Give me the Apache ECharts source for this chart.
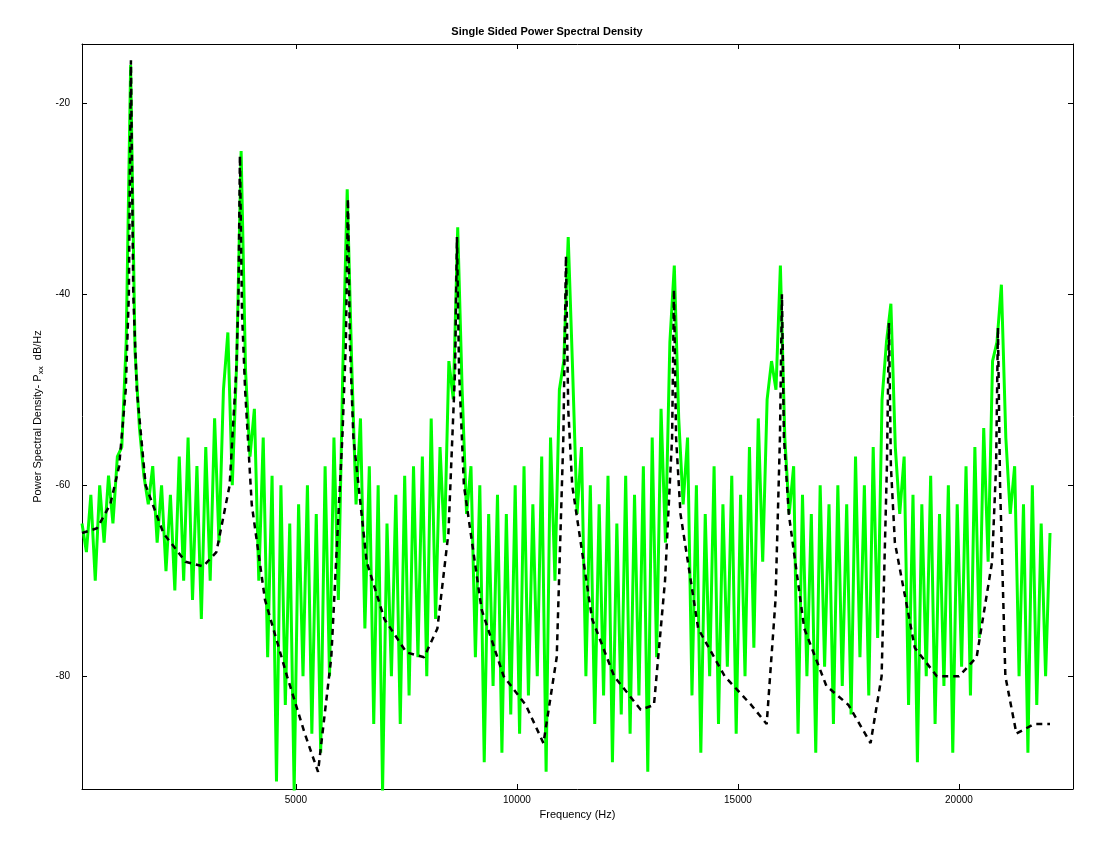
<!DOCTYPE html>
<html><head><meta charset="utf-8">
<script src="https://cdn.jsdelivr.net/npm/echarts@6/dist/echarts.min.js"></script>
<style>html,body{margin:0;padding:0;background:#fff}#c{width:1094px;height:849px}</style>
</head><body><div id="c"></div>
<script>
const greenStart = 160, greenStep = 100;
const greenValues = [-64,-67,-61,-70,-60,-66,-59,-64,-57,-56,-45,-16,-46,-54,-59,-62,-58,-66,-60,-69,-61,-71,-57,-70,-55,-72,-58,-74,-56,-70,-53,-66,-50,-44,-60,-47,-25,-48,-57,-52,-70,-55,-78,-59,-91,-60,-83,-64,-92,-62,-80,-60,-86,-63,-88,-58,-80,-55,-72,-48,-29,-47,-62,-53,-75,-58,-85,-60,-92,-64,-80,-61,-85,-59,-82,-58,-78,-57,-80,-53,-74,-56,-66,-47,-51,-33,-50,-63,-58,-78,-60,-89,-63,-81,-61,-88,-63,-84,-60,-86,-58,-82,-62,-80,-57,-90,-55,-70,-50,-47,-34,-48,-63,-56,-80,-60,-85,-62,-82,-59,-89,-64,-84,-59,-86,-61,-82,-58,-90,-55,-78,-52,-66,-45,-37,-53,-62,-55,-82,-60,-88,-63,-80,-58,-85,-62,-79,-59,-86,-61,-80,-56,-77,-53,-68,-51,-47,-50,-37,-55,-63,-58,-86,-61,-80,-63,-88,-60,-79,-62,-85,-60,-81,-62,-84,-57,-78,-60,-82,-56,-76,-51,-45,-41,-56,-63,-57,-83,-61,-89,-62,-80,-59,-85,-63,-81,-60,-88,-62,-79,-58,-82,-56,-76,-54,-68,-47,-45,-39,-55,-63,-58,-80,-62,-88,-60,-83,-64,-80,-65];
const blackFreqs = [160,500,800,1000,1150,1220,1267,1320,1400,1600,2000,2500,2900,3200,3500,3650,3700,3733,3780,3850,4000,4300,4800,5200,5500,5800,6050,6130,6176,6220,6300,6600,7000,7500,7900,8200,8450,8600,8643,8690,8800,9200,9700,10200,10600,10900,11050,11109,11160,11250,11700,12200,12800,13100,13350,13510,13552,13600,13700,14100,14700,15300,15650,15850,15950,15995,16040,16150,16500,17000,17500,18000,18250,18370,18416,18460,18550,19000,19500,20000,20400,20750,20840,20882,20930,21050,21300,21700,22060];
const blackValues = [-65,-64.5,-62,-58,-50,-40,-15.5,-40,-50,-60,-65,-68,-68.5,-67,-60,-48,-40,-25.5,-42,-50,-62,-72,-80,-86,-90,-78,-55,-45,-30,-45,-55,-68,-74,-77.5,-78,-75,-65,-48,-34,-48,-60,-73,-80,-83,-87,-78,-55,-36,-52,-60,-74,-80,-83.5,-83,-70,-55,-39.5,-55,-63,-75,-80,-83,-85,-72,-55,-40,-55,-63,-75,-81,-83,-87,-80,-58,-43,-58,-66,-77,-80,-80,-78,-68,-58,-43.5,-60,-80,-86,-85,-85];
const xTicks = [5000,10000,15000,20000];
const yTicks = [-80,-60,-40,-20];

const greenData = greenValues.map((v,i)=>[greenStart+greenStep*i, v]);
const blackData = blackFreqs.map((f,i)=>[f, blackValues[i]]);
const font = 'Liberation Sans';
const chart = echarts.init(document.getElementById('c'));
const baseX = {type:'value',min:160,max:22580,splitLine:{show:false},
  axisLine:{lineStyle:{color:'#000'}},axisTick:{inside:true,length:5,customValues:xTicks,lineStyle:{color:'#000'}}};
const baseY = {type:'value',min:-91.8,max:-13.8,splitLine:{show:false},
  axisLine:{lineStyle:{color:'#000'}},axisTick:{inside:true,length:5,customValues:yTicks,lineStyle:{color:'#000'}}};
chart.setOption({
  animation:false,
  title:{text:'Single Sided Power Spectral Density',left:'center',top:21,textStyle:{fontFamily:font,fontSize:11,fontWeight:'bold',color:'#000'}},
  grid:{left:82,right:21,top:44,bottom:60},
  xAxis:[Object.assign({},baseX,{position:'bottom',name:'Frequency (Hz)',nameLocation:'middle',nameGap:20,
      nameTextStyle:{fontFamily:font,fontSize:11,color:'#000'},
      axisLabel:{customValues:xTicks,formatter:v=>String(v),fontFamily:font,fontSize:10,color:'#000',margin:6}}),
    Object.assign({},baseX,{position:'top',axisLabel:{show:false}})],
  yAxis:[Object.assign({},baseY,{position:'left',name:'{a|Power Spectral Density- P}{s|xx}{a|  dB/Hz}',nameLocation:'middle',nameGap:34,
      nameTextStyle:{rich:{a:{fontFamily:font,fontSize:11,color:'#000'},s:{fontFamily:font,fontSize:8,color:'#000',verticalAlign:'bottom',padding:[6,0,0,0]}}},
      axisLabel:{customValues:yTicks,formatter:v=>String(v),fontFamily:font,fontSize:10,color:'#000',margin:12}}),
    Object.assign({},baseY,{position:'right',axisLabel:{show:false}})],
  series:[
    {type:'line',data:greenData,showSymbol:false,lineStyle:{color:'#00ff00',width:3},z:2},
    {type:'line',data:blackData,showSymbol:false,lineStyle:{color:'#000',width:2.5,type:[6,5]},z:3}
  ]
});
</script></body></html>
